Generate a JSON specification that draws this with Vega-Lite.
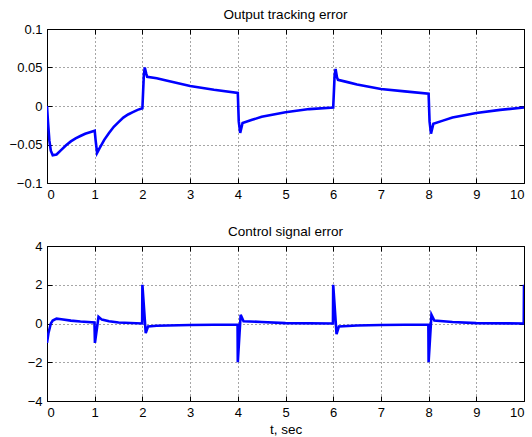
{
  "$schema": "https://vega.github.io/schema/vega-lite/v6.json",
  "padding": {"left": 8, "top": 7, "right": 6, "bottom": 4},
  "background": "white",
  "datasets": {
    "top": [
      {"t": 0, "e": 0}, {"t": 0.02, "e": -0.02}, {"t": 0.05, "e": -0.045}, {"t": 0.08, "e": -0.058},
      {"t": 0.12, "e": -0.064}, {"t": 0.2, "e": -0.063}, {"t": 0.3, "e": -0.057}, {"t": 0.4, "e": -0.051},
      {"t": 0.5, "e": -0.046}, {"t": 0.6, "e": -0.042}, {"t": 0.7, "e": -0.039}, {"t": 0.8, "e": -0.036},
      {"t": 0.9, "e": -0.034}, {"t": 1.0, "e": -0.032}, {"t": 1.02, "e": -0.045}, {"t": 1.05, "e": -0.061},
      {"t": 1.1, "e": -0.055}, {"t": 1.2, "e": -0.044}, {"t": 1.3, "e": -0.035}, {"t": 1.4, "e": -0.027},
      {"t": 1.5, "e": -0.021}, {"t": 1.6, "e": -0.015}, {"t": 1.7, "e": -0.011}, {"t": 1.8, "e": -0.008},
      {"t": 1.9, "e": -0.005}, {"t": 2.0, "e": -0.003}, {"t": 2.03, "e": 0.04}, {"t": 2.05, "e": 0.05},
      {"t": 2.08, "e": 0.042}, {"t": 2.1, "e": 0.038}, {"t": 2.3, "e": 0.036}, {"t": 2.5, "e": 0.033},
      {"t": 3.0, "e": 0.026}, {"t": 3.5, "e": 0.021}, {"t": 4.0, "e": 0.017}, {"t": 4.02, "e": -0.02},
      {"t": 4.05, "e": -0.035}, {"t": 4.1, "e": -0.022}, {"t": 4.3, "e": -0.018}, {"t": 4.5, "e": -0.014},
      {"t": 5.0, "e": -0.008}, {"t": 5.5, "e": -0.004}, {"t": 6.0, "e": -0.002}, {"t": 6.03, "e": 0.04},
      {"t": 6.05, "e": 0.048}, {"t": 6.08, "e": 0.037}, {"t": 6.1, "e": 0.034}, {"t": 6.3, "e": 0.031},
      {"t": 6.5, "e": 0.028}, {"t": 7.0, "e": 0.022}, {"t": 7.5, "e": 0.019}, {"t": 8.0, "e": 0.016},
      {"t": 8.02, "e": -0.02}, {"t": 8.05, "e": -0.036}, {"t": 8.1, "e": -0.023}, {"t": 8.3, "e": -0.019},
      {"t": 8.5, "e": -0.015}, {"t": 9.0, "e": -0.009}, {"t": 9.5, "e": -0.005}, {"t": 10.0, "e": -0.002}
    ],
    "bot": [
      {"t": 0, "u": -1}, {"t": 0.03, "u": -0.5}, {"t": 0.08, "u": 0.0}, {"t": 0.12, "u": 0.15},
      {"t": 0.2, "u": 0.25}, {"t": 0.3, "u": 0.22}, {"t": 0.5, "u": 0.15}, {"t": 0.7, "u": 0.1},
      {"t": 0.995, "u": 0.05}, {"t": 1.005, "u": -1.0}, {"t": 1.08, "u": 0.35}, {"t": 1.15, "u": 0.2},
      {"t": 1.3, "u": 0.12}, {"t": 1.5, "u": 0.05}, {"t": 1.995, "u": 0.0}, {"t": 2.0, "u": 2.0},
      {"t": 2.07, "u": -0.5}, {"t": 2.12, "u": -0.15}, {"t": 2.3, "u": -0.12}, {"t": 3.0, "u": -0.08},
      {"t": 3.995, "u": -0.05}, {"t": 4.0, "u": -2.0}, {"t": 4.06, "u": 0.45}, {"t": 4.12, "u": 0.12},
      {"t": 4.5, "u": 0.08}, {"t": 5.0, "u": 0.02}, {"t": 5.995, "u": 0.0}, {"t": 6.0, "u": 2.0},
      {"t": 6.07, "u": -0.55}, {"t": 6.12, "u": -0.15}, {"t": 6.5, "u": -0.1}, {"t": 7.0, "u": -0.08},
      {"t": 7.995, "u": -0.05}, {"t": 8.0, "u": -2.0}, {"t": 8.06, "u": 0.45}, {"t": 8.12, "u": 0.15},
      {"t": 8.5, "u": 0.08}, {"t": 9.0, "u": 0.02}, {"t": 9.995, "u": 0.0}, {"t": 10.0, "u": 2.0}
    ]
  },
  "vconcat": [
    {
      "width": 477, "height": 154,
      "title": {"text": "Output tracking error", "offset": 2},
      "data": {"name": "top"},
      "layer": [
        {
          "mark": {"type": "line", "opacity": 0},
          "encoding": {
            "x": {"field": "t", "type": "quantitative", "scale": {"domain": [0, 10], "nice": false},
                  "axis": {"title": null, "values": [0,1,2,3,4,5,6,7,8,9,10], "orient": "bottom"}},
            "y": {"field": "e", "type": "quantitative", "scale": {"domain": [-0.1, 0.1], "nice": false, "zero": false},
                  "axis": {"title": null, "values": [-0.1, -0.05, 0, 0.05, 0.1], "format": "~g", "orient": "left"}}
          }
        },
        {
          "mark": {"type": "line", "color": "#0000ff", "strokeWidth": 2.6, "clip": true},
          "encoding": {
            "x": {"field": "t", "type": "quantitative",
                  "axis": {"title": null, "values": [0,1,2,3,4,5,6,7,8,9,10], "orient": "top", "labels": false, "grid": false}},
            "y": {"field": "e", "type": "quantitative",
                  "axis": {"title": null, "values": [-0.1, -0.05, 0, 0.05, 0.1], "orient": "right", "labels": false, "grid": false}}
          }
        }
      ],
      "resolve": {"axis": {"x": "independent", "y": "independent"}}
    },
    {
      "width": 477, "height": 155,
      "title": {"text": "Control signal error", "offset": 2},
      "data": {"name": "bot"},
      "layer": [
        {
          "mark": {"type": "line", "opacity": 0},
          "encoding": {
            "x": {"field": "t", "type": "quantitative", "scale": {"domain": [0, 10], "nice": false},
                  "axis": {"title": "t, sec", "values": [0,1,2,3,4,5,6,7,8,9,10], "orient": "bottom"}},
            "y": {"field": "u", "type": "quantitative", "scale": {"domain": [-4, 4], "nice": false},
                  "axis": {"title": null, "values": [-4, -2, 0, 2, 4], "orient": "left"}}
          }
        },
        {
          "mark": {"type": "line", "color": "#0000ff", "strokeWidth": 2.6, "clip": true},
          "encoding": {
            "x": {"field": "t", "type": "quantitative",
                  "axis": {"title": null, "values": [0,1,2,3,4,5,6,7,8,9,10], "orient": "top", "labels": false, "grid": false}},
            "y": {"field": "u", "type": "quantitative",
                  "axis": {"title": null, "values": [-4, -2, 0, 2, 4], "orient": "right", "labels": false, "grid": false}}
          }
        }
      ],
      "resolve": {"axis": {"x": "independent", "y": "independent"}}
    }
  ],
  "spacing": 22,
  "config": {
    "view": {"stroke": "#000000", "strokeWidth": 1},
    "axis": {
      "grid": true, "gridDash": [1, 3], "gridColor": "#000000", "gridOpacity": 0.7, "gridWidth": 1,
      "domain": false, "ticks": true, "tickColor": "#000000", "tickSize": -5, "tickWidth": 1,
      "labelFont": "Liberation Sans", "labelFontSize": 13, "labelColor": "#000000", "labelPadding": 10,
      "titleFont": "Liberation Sans", "titleFontSize": 13.5, "titleFontWeight": "normal", "titleColor": "#000000", "titlePadding": 3
    },
    "title": {"font": "Liberation Sans", "fontSize": 13.5, "fontWeight": "normal", "color": "#000000", "anchor": "middle"}
  }
}
